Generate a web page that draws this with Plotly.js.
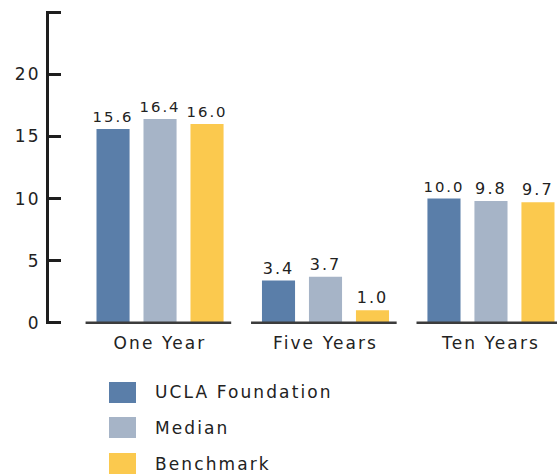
<!DOCTYPE html>
<html>
<head>
<meta charset="utf-8">
<script src="https://cdn.plot.ly/plotly-3.0.1.min.js"></script>
<style>
  body { margin: 0; background: #fff; }
  #chart { width: 557px; height: 476px; }
  .main-svg text { letter-spacing: 2.1px; }
</style>
</head>
<body>
<div id="chart"></div>
<script>
// ---- data ----
const categories = ["One Year", "Five Years", "Ten Years"];
const seriesNames = ["UCLA Foundation", "Median", "Benchmark"];
const uclaValues = [15.6, 3.4, 10.0];
const medianValues = [16.4, 3.7, 9.8];
const benchmarkValues = [16.0, 1.0, 9.7];
const yTickValues = [0, 5, 10, 15, 20, 25];
const yTickLabels = ["0", "5", "10", "15", "20", ""];

const colors = ["#5a7ea9", "#a6b4c7", "#fbc94e"];
const seriesValues = [uclaValues, medianValues, benchmarkValues];
const FONT = "DejaVu Sans, Verdana, sans-serif";
const textColor = "#222222";

const traces = seriesValues.map((vals, i) => ({
  type: "bar",
  name: seriesNames[i],
  x: categories,
  y: vals,
  marker: { color: colors[i], line: { width: 0 } },
  text: vals.map(v => v.toFixed(1)),
  textposition: "outside",
  textfont: { family: FONT, size: 16, color: textColor },
  cliponaxis: false,
  hoverinfo: "skip",
  showlegend: false
}));

// baseline segments under each group
const shapes = categories.map((c, i) => ({
  type: "line", xref: "x", yref: "y",
  x0: i - 0.45, x1: i + 0.43, y0: 0, y1: 0,
  line: { color: "#3c3c3c", width: 2.5 }
}));

// custom legend (large squares)
const annotations = [];
const legendTop = [382, 417, 453];   // pixel positions
const plotTop = 11, plotH = 313, marginL = 49, plotW = 508;
seriesNames.forEach((name, i) => {
  const y0 = (plotTop + plotH - legendTop[i] - 21) / plotH;
  const y1 = (plotTop + plotH - legendTop[i]) / plotH;
  shapes.push({
    type: "rect", xref: "paper", yref: "paper",
    x0: (109 - marginL) / plotW, x1: (136 - marginL) / plotW,
    y0: y0, y1: y1,
    fillcolor: colors[i], line: { width: 0 }
  });
  annotations.push({
    xref: "paper", yref: "paper",
    x: (153 - marginL) / plotW, y: (y0 + y1) / 2,
    xanchor: "left", yanchor: "middle", align: "left",
    text: name, showarrow: false,
    font: { family: FONT, size: 17, color: textColor }
  });
});

const layout = {
  width: 557, height: 476,
  margin: { l: marginL, r: 0, t: plotTop, b: 476 - plotTop - plotH },
  paper_bgcolor: "#ffffff", plot_bgcolor: "#ffffff",
  barmode: "group",
  bargap: 0.148,
  bargroupgap: 0.296,
  showlegend: false,
  xaxis: {
    type: "category",
    range: [-0.671, 2.399],
    showline: false, showgrid: false, zeroline: false,
    ticks: "",
    tickfont: { family: FONT, size: 17, color: textColor },
    ticklabelstandoff: 7,
    fixedrange: true
  },
  yaxis: {
    range: [-0.1, 25.1],
    showline: true, linecolor: "#1e1e1e", linewidth: 3,
    showgrid: false, zeroline: false,
    ticks: "inside", ticklen: 12, tickwidth: 3, tickcolor: "#1e1e1e",
    tickvals: yTickValues, ticktext: yTickLabels,
    tickfont: { family: FONT, size: 17, color: textColor },
    ticklabelstandoff: 2,
    fixedrange: true
  },
  shapes: shapes,
  annotations: annotations
};

Plotly.newPlot("chart", traces, layout, { staticPlot: true, displayModeBar: false });
</script>
</body>
</html>
